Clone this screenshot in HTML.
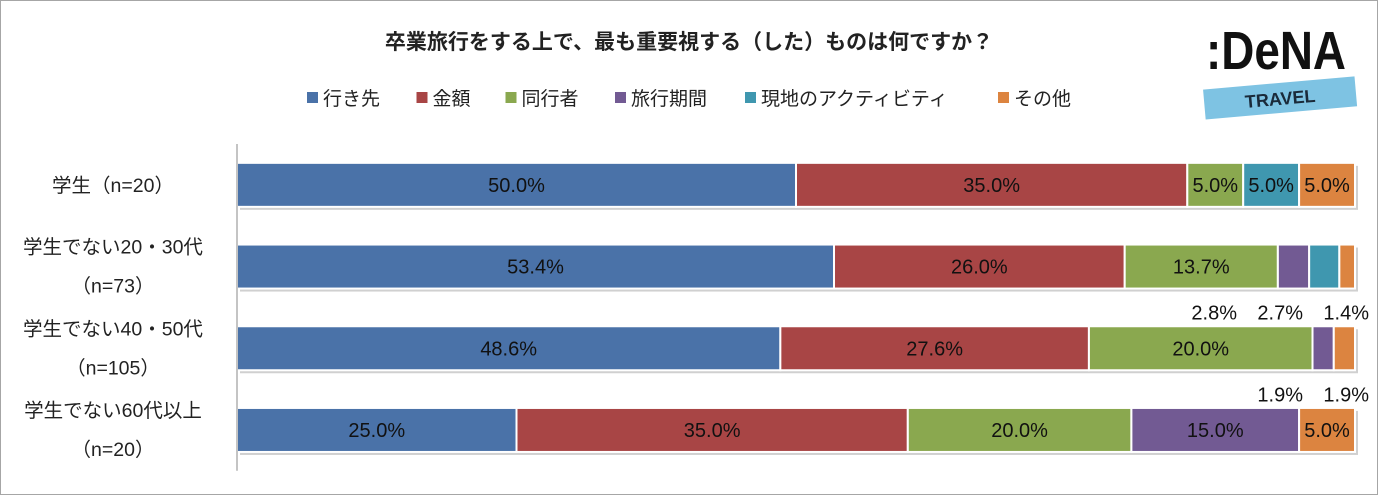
<!DOCTYPE html>
<html><head><meta charset="utf-8">
<style>
body{margin:0;background:#fff;font-family:"Liberation Sans","Noto Sans CJK JP",sans-serif;}
#wrap{position:relative;width:1376px;height:493px;border:1px solid #a6a6a6;overflow:hidden;background:#fff}
svg text{font-family:"Liberation Sans","Noto Sans CJK JP",sans-serif}
</style></head>
<body>
<div id="wrap">
<svg id="chart" width="1376" height="493">
<text x="688" y="48" text-anchor="middle" font-size="21" font-weight="bold" fill="#222">卒業旅行をする上で、最も重要視する（した）ものは何ですか？</text>
<g id="legend"></g>
<g id="bars"></g>
<g>
<text x="1205" y="68" font-size="54" font-weight="bold" fill="#111" textLength="140" lengthAdjust="spacingAndGlyphs">:DeNA</text>
<g transform="rotate(-5 1278 96)">
<rect x="1203" y="82" width="152" height="30" fill="#7ec3e3"/>
<text x="1279" y="104" text-anchor="middle" font-size="18" font-weight="bold" fill="#1a2a3a">TRAVEL</text>
</g>
</g>
</svg>
</div>
<script>
const categories=["学生（n=20）","学生でない20・30代|（n=73）","学生でない40・50代|（n=105）","学生でない60代以上|（n=20）"];
const seriesNames=["行き先","金額","同行者","旅行期間","現地のアクティビティ","その他"];
const colors=["#4a72a8","#a84545","#8aa84f","#725a93","#3f97af","#dc8440"];
const s1=[50.0,53.4,48.6,25.0];
const s2=[35.0,26.0,27.6,35.0];
const s3=[5.0,13.7,20.0,20.0];
const s4=[0,2.8,1.9,15.0];
const s5=[5.0,2.7,0,0];
const s6=[5.0,1.4,1.9,5.0];
const series=[s1,s2,s3,s4,s5,s6];
const NS="http://www.w3.org/2000/svg";
const x0=236,x1=1354,yTop=143,rowH=81.7,barH=44;
const xs=v=>x0+(x1-x0)*v/100;
const bars=document.getElementById('bars');
function mk(t,a,p){const e=document.createElementNS(NS,t);for(const k in a)e.setAttribute(k,a[k]);p.appendChild(e);return e;}
const lg=document.getElementById('legend');
let lx=306;
seriesNames.forEach((n,i)=>{
 const r=mk('rect',{x:lx,y:91,width:11,height:11,fill:colors[i]},lg);
 
 
 const t=mk('text',{x:lx+16,y:104,'font-size':19,fill:'#222'},lg);
 t.textContent=n;
 
 
 lx+=16+n.length*20.5+32;
});
categories.forEach((c,ci)=>{
 const cy=yTop+rowH*ci+rowH/2;
 const by=cy-barH/2;
 mk('rect',{x:x0+3,y:by+3,width:x1-x0,height:barH,fill:'#d0d0d0'},bars);
 let acc=0;const small=[];
 series.forEach((s,si)=>{
  const v=s[ci];
  if(v<=0){return;}
  const xa=xs(acc),xb=xs(acc+v);
  const r=mk('rect',{x:xa,y:by,width:xb-xa,height:barH,fill:colors[si],stroke:'#fff','stroke-width':2},bars);
  
  
  if(v>=5){
   const t=mk('text',{x:(xa+xb)/2,y:cy+7,'text-anchor':'middle','font-size':20,fill:'#111'},bars);
   t.textContent=v.toFixed(1)+'%';
   
   
  } else small.push(v);
  acc+=v;
 });
 small.reverse().forEach((v,k)=>{
  const t=mk('text',{x:1368-k*66,y:by+barH+31,'text-anchor':'end','font-size':20,fill:'#111'},bars);
  t.textContent=v.toFixed(1)+'%';
  
  
 });
 const lines=c.split('|');
 lines.forEach((l,li)=>{
  const yy=lines.length===1?cy+7:cy-13+li*39;
  const t=mk('text',{x:112,y:yy,'text-anchor':'middle','font-size':19.5,fill:'#222'},bars);
  t.textContent=l;
  
  
 });
});
const ax=mk('line',{x1:x0,y1:yTop,x2:x0,y2:yTop+rowH*4,stroke:'#888','stroke-width':1},bars);


</script>
</body></html>
